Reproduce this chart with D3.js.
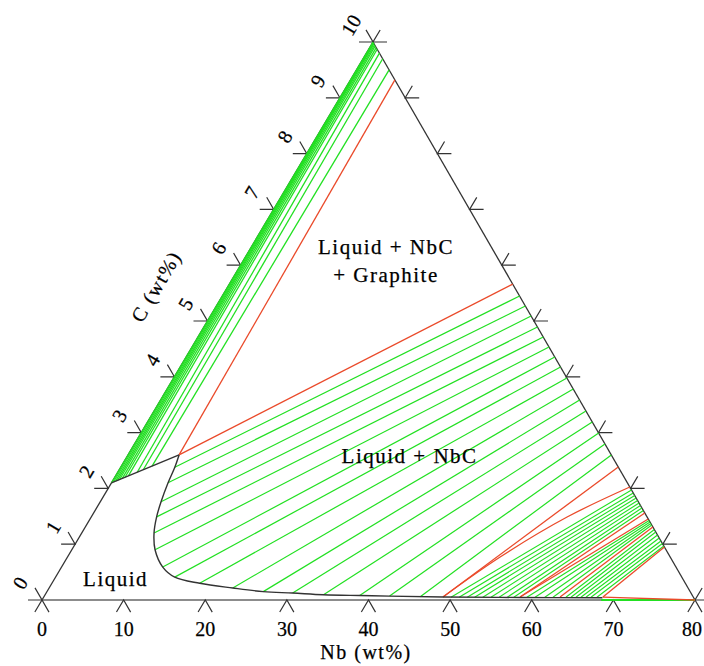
<!DOCTYPE html>
<html><head><meta charset="utf-8">
<script src="https://cdn.jsdelivr.net/npm/d3@7"></script>
<style>body{margin:0;background:#fff}</style>
</head><body>
<svg id="chart" width="704" height="666"></svg>
<script>
// ---------- data (Nb wt%, C wt%) ----------
const nbTicks = [0,10,20,30,40,50,60,70,80];
const cTicks = [0,1,2,3,4,5,6,7,8,9,10];
const rightEdgeTicks = [0,1,2,3,4,5,6,7,8,9,10];

// Liquid / Liquid+Graphite boundary (straight part)
const liquidGraphiteEdge = [[0,2.1],[6.25,2.6]];
// Liquidus towards Liquid+NbC
const liquidusNb = [6.25,6.62,6.93,7.45,8.0,8.86,10.2,12.4,14.6,18.1,22.5,26.5,30.2,34.1,38.6,42.3,48.9,58.4,68.5];
const liquidusC  = [2.6,2.38,2.1,1.76,1.49,1.2,0.9,0.59,0.41,0.3,0.215,0.15,0.125,0.095,0.08,0.07,0.055,0.045,0.04];

// Liquid + Graphite tie lines [Nb1,C1,Nb2,C2]
const graphiteTies = [
  [0,2.1,0,10],[0.19,2.115,0.08,9.99],[0.38,2.13,0.16,9.98],[0.56,2.145,0.24,9.97],
  [0.75,2.16,0.4,9.95],[1.0,2.18,0.56,9.93],[1.25,2.2,0.8,9.9],[1.56,2.225,1.04,9.87],
  [2.38,2.29,1.6,9.8],[2.94,2.335,2.4,9.7],[3.75,2.4,4.0,9.5]
];
// Liquid + NbC tie lines
const nbcTies = [
  [6.62,2.38,36.42,5.448],[6.93,2.1,37.85,5.269],[7.45,1.76,39.28,5.09],[8.0,1.49,40.86,4.892],
  [8.86,1.2,42.30,4.713],[10.2,0.9,43.73,4.534],[12.4,0.59,45.16,4.355],[14.6,0.41,46.59,4.176],
  [18.1,0.3,48.18,3.978],[22.5,0.215,49.75,3.781],[26.5,0.15,51.33,3.584],[30.2,0.125,52.90,3.387],
  [34.1,0.095,54.48,3.19],[38.6,0.08,56.06,2.993],[42.3,0.07,57.63,2.796],[46.1,0.06,59.21,2.599]
];
// low-carbon fans near the Nb-rich corner
const fanTies = [
  [49.9,0.05,64.23,1.971],[50.9,0.05,64.66,1.918],[51.9,0.05,65.02,1.873],[52.8,0.05,65.38,1.828],
  [53.8,0.05,65.74,1.783],[54.8,0.05,66.10,1.738],[55.8,0.05,66.45,1.694],[56.8,0.05,66.81,1.649],
  [57.6,0.05,67.17,1.604],
  [59.2,0.05,68.60,1.425],[60.2,0.05,68.82,1.398],[61.4,0.05,69.03,1.371],[62.4,0.05,69.25,1.344],
  [63.98,0.05,69.90,1.263],[64.60,0.05,70.25,1.219],[65.21,0.05,70.68,1.165],[65.82,0.05,71.11,1.111],
  [66.43,0.05,71.54,1.057],[67.05,0.05,71.90,1.013],[67.78,0.05,72.26,0.968],
  [68.5,0.0,80,0.0]
];
// three-phase boundaries (red), as polylines
const redLines = [
  [[6.25,2.6],[5.44,9.32]],
  [[6.25,2.6],[34.72,5.66]],
  [[48.9,0.055],[60.93,2.384]],
  [[48.9,0.055],[53.0,0.771],[58.3,1.487],[63.8,2.025]],
  [[58.35,0.054],[67.53,1.559]],
  [[58.35,0.054],[68.38,1.452]],
  [[63.25,0.054],[69.53,1.308]],
  [[68.5,0.054],[72.4,0.95]],
  [[68.5,0.05],[80,0.0]]
];
const regionLabels = [
  {lines:["Liquid + NbC","+ Graphite"], nb:17.0, c:6.2},
  {lines:["Liquid + NbC"], nb:35.1, c:2.45},
  {lines:["Liquid"], nb:8.0, c:0.25}
];

// ---------- layout ----------
const W = 704;
const O = [42,600], B = [695,600], T = [373,42];
const sNb = d3.scaleLinear().domain([0,80]).range([0,1]);
const sC  = d3.scaleLinear().domain([0,10]).range([0,1]);
const P = (nb,c) => {
  const a = sNb(nb), b = sC(c);
  return [O[0] + a*(B[0]-O[0]) + b*(T[0]-O[0]), O[1] + a*(B[1]-O[1]) + b*(T[1]-O[1])];
};
const svg = d3.select("#chart");
const GREEN = "#22e022", RED = "#ea4a2a", DARK = "#333";
const font = "'Liberation Serif','Times New Roman',serif";
const line = d3.line();

// unit vectors
const uL = [(T[0]-O[0]), (T[1]-O[1])]; const lL = Math.hypot(...uL); uL[0]/=lL; uL[1]/=lL;
const uR = [(B[0]-T[0]), (B[1]-T[1])]; const lR = Math.hypot(...uR); uR[0]/=lR; uR[1]/=lR;
const angle = Math.atan2(uL[1],uL[0])*180/Math.PI;
const TL = 14;

// frame
svg.append("path").attr("d", line([P(0,0),P(0,10)])).attr("stroke",DARK).attr("stroke-width",1.3).attr("fill","none");
svg.append("path").attr("d", line([P(0,10),P(80,0)])).attr("stroke",DARK).attr("stroke-width",1.3).attr("fill","none");
svg.append("path").attr("d", line([P(0,0),P(80,0)])).attr("stroke","#666").attr("stroke-width",1.6).attr("fill","none");

// ticks
const tickG = svg.append("g").attr("stroke",DARK).attr("stroke-width",1.2).attr("fill","none");
nbTicks.forEach(v => {
  const p = P(v,0);
  tickG.append("path").attr("d", line([[p[0]-uL[0]*TL,p[1]-uL[1]*TL], p, [p[0]+uR[0]*TL,p[1]+uR[1]*TL]]));
});
cTicks.forEach(v => {
  const p = P(0,v);
  tickG.append("path").attr("d", line([[p[0]-TL,p[1]], p, [p[0]-uR[0]*TL,p[1]-uR[1]*TL]]));
});
rightEdgeTicks.forEach(v => {
  const p = P(80*(1-sC(v)), v);
  tickG.append("path").attr("d", line([[p[0]+TL,p[1]], p, [p[0]+uL[0]*TL,p[1]+uL[1]*TL]]));
});

// tie lines
const tieG = svg.append("g").attr("fill","none");
const drawTies = (arr, color, w) => arr.forEach(t => {
  tieG.append("path").attr("d", line([P(t[0],t[1]),P(t[2],t[3])])).attr("stroke",color).attr("stroke-width",w);
});
drawTies(graphiteTies, GREEN, 1.3);
drawTies(nbcTies, GREEN, 1.2);
drawTies(fanTies.slice(0,-1), GREEN, 1.1);
drawTies(fanTies.slice(-1), GREEN, 2);
redLines.forEach(r => {
  tieG.append("path").attr("d", d3.line().curve(d3.curveCatmullRom)(r.map(d=>P(d[0],d[1]))))
    .attr("stroke",RED).attr("stroke-width",1.3);
});

// liquidus
svg.append("path").attr("d", line(liquidGraphiteEdge.map(d=>P(d[0],d[1]))))
  .attr("stroke",DARK).attr("stroke-width",1.4).attr("fill","none");
svg.append("path").attr("d", d3.line().curve(d3.curveCatmullRom)(liquidusNb.map((n,i)=>P(n,liquidusC[i]))))
  .attr("stroke",DARK).attr("stroke-width",1.4).attr("fill","none");

// tick labels
const labG = svg.append("g").attr("font-family",font).attr("font-size",20).attr("fill","#000")
  .attr("stroke","#000").attr("stroke-width",0.25);
nbTicks.forEach(v => {
  const p = P(v,0);
  const t = labG.append("text").attr("x",p[0]).attr("y",p[1]+36).attr("text-anchor","middle").text(v);
  const w = t.node().getComputedTextLength();
  if (p[0] + w/2 > W - 2) t.attr("x", W - 2 - w/2);
});
cTicks.forEach(v => {
  const p = P(0,v);
  const x = p[0]-22, y = p[1]-17;
  labG.append("text").attr("x",x).attr("y",y).attr("text-anchor","middle").attr("dominant-baseline","central")
    .attr("transform",`rotate(${angle},${x},${y})`).text(v);
});
// axis titles
labG.append("text").attr("x",366).attr("y",659).attr("text-anchor","middle").attr("letter-spacing",1.5).text("Nb (wt%)");
{
  const p = P(0,5.05); const x = p[0]-53, y = p[1]-32;
  labG.append("text").attr("x",x).attr("y",y).attr("text-anchor","middle").attr("dominant-baseline","central")
    .attr("letter-spacing",1.5).attr("transform",`rotate(${angle},${x},${y})`).text("C (wt%)");
}

// region labels
regionLabels.forEach(r => {
  const p = P(r.nb, r.c);
  r.lines.forEach((s,i) => {
    labG.append("text").attr("x",p[0]).attr("y",p[1]+i*28).attr("text-anchor","middle")
      .attr("font-size",21).attr("letter-spacing",1.5).text(s);
  });
});
</script>
</body></html>
